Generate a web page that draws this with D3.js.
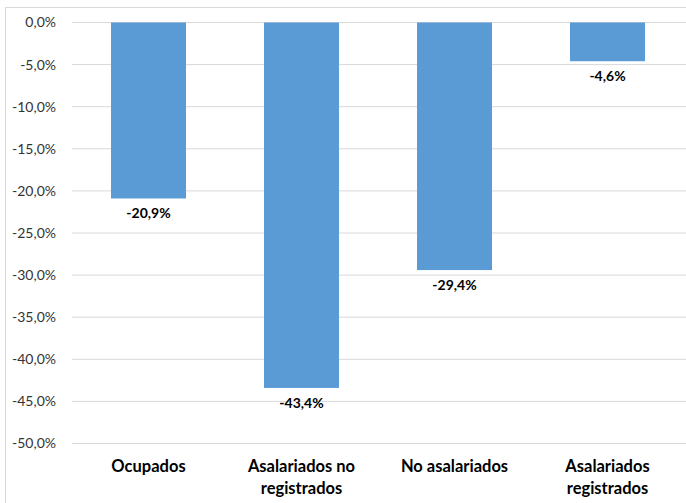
<!DOCTYPE html>
<html><head><meta charset="utf-8">
<script src="https://cdn.jsdelivr.net/npm/d3@7"></script>
<style>body{margin:0;background:#fff}svg{display:block}text{font-family:Lato,"Open Sans",sans-serif}</style>
</head><body><svg id="c" width="686" height="503"></svg>
<script>
const categories = [["Ocupados"],["Asalariados no","registrados"],["No asalariados"],["Asalariados","registrados"]];
const values = [-20.9, -43.4, -29.4, -4.6];
const ticks = [0,-5,-10,-15,-20,-25,-30,-35,-40,-45,-50];

const svg = d3.select("#c");
const fmt = v => v.toFixed(1).replace(".", ",") + "%";
svg.append("rect").attr("x",5.5).attr("y",7.5).attr("width",700).attr("height",520)
  .attr("fill","none").attr("stroke","#d9d9d9");
const x = d3.scaleBand().domain(d3.range(categories.length)).range([72,684]).paddingInner(0.51).paddingOuter(0.255);
const y = d3.scaleLinear().domain([0,-50]).range([22.5,443.5]);

svg.append("g").selectAll("line").data(ticks).join("line")
  .attr("x1",72).attr("x2",686).attr("y1",d=>y(d)).attr("y2",d=>y(d))
  .attr("stroke","#d9d9d9").attr("stroke-width",1);

const ax = svg.append("g").attr("transform","translate(60,0)")
  .call(d3.axisLeft(y).tickValues(ticks).tickFormat(fmt).tickSize(0).tickPadding(4));
ax.select(".domain").remove();
ax.selectAll("text").attr("font-size",14).attr("fill","#333").attr("font-family","Lato,sans-serif");

svg.append("g").selectAll("rect").data(values).join("rect")
  .attr("x",(d,i)=>x(i)).attr("width",x.bandwidth())
  .attr("y",y(0)).attr("height",d=>y(d)-y(0)).attr("fill","#5b9bd5");

svg.append("g").selectAll("text").data(values).join("text")
  .attr("x",(d,i)=>x(i)+x.bandwidth()/2).attr("y",d=>y(d)+20)
  .attr("text-anchor","middle").attr("font-size",14).attr("font-weight","bold").attr("fill","#000")
  .text(fmt);

const cg = svg.append("g").selectAll("text").data(categories).join("text")
  .attr("text-anchor","middle").attr("font-size",16.5).attr("font-weight","bold").attr("fill","#000");
cg.each(function(lines,i){
  const t = d3.select(this);
  lines.forEach((l,j)=>t.append("tspan").attr("x",x(i)+x.bandwidth()/2).attr("y",472+j*22).text(l));
});
</script></body></html>
